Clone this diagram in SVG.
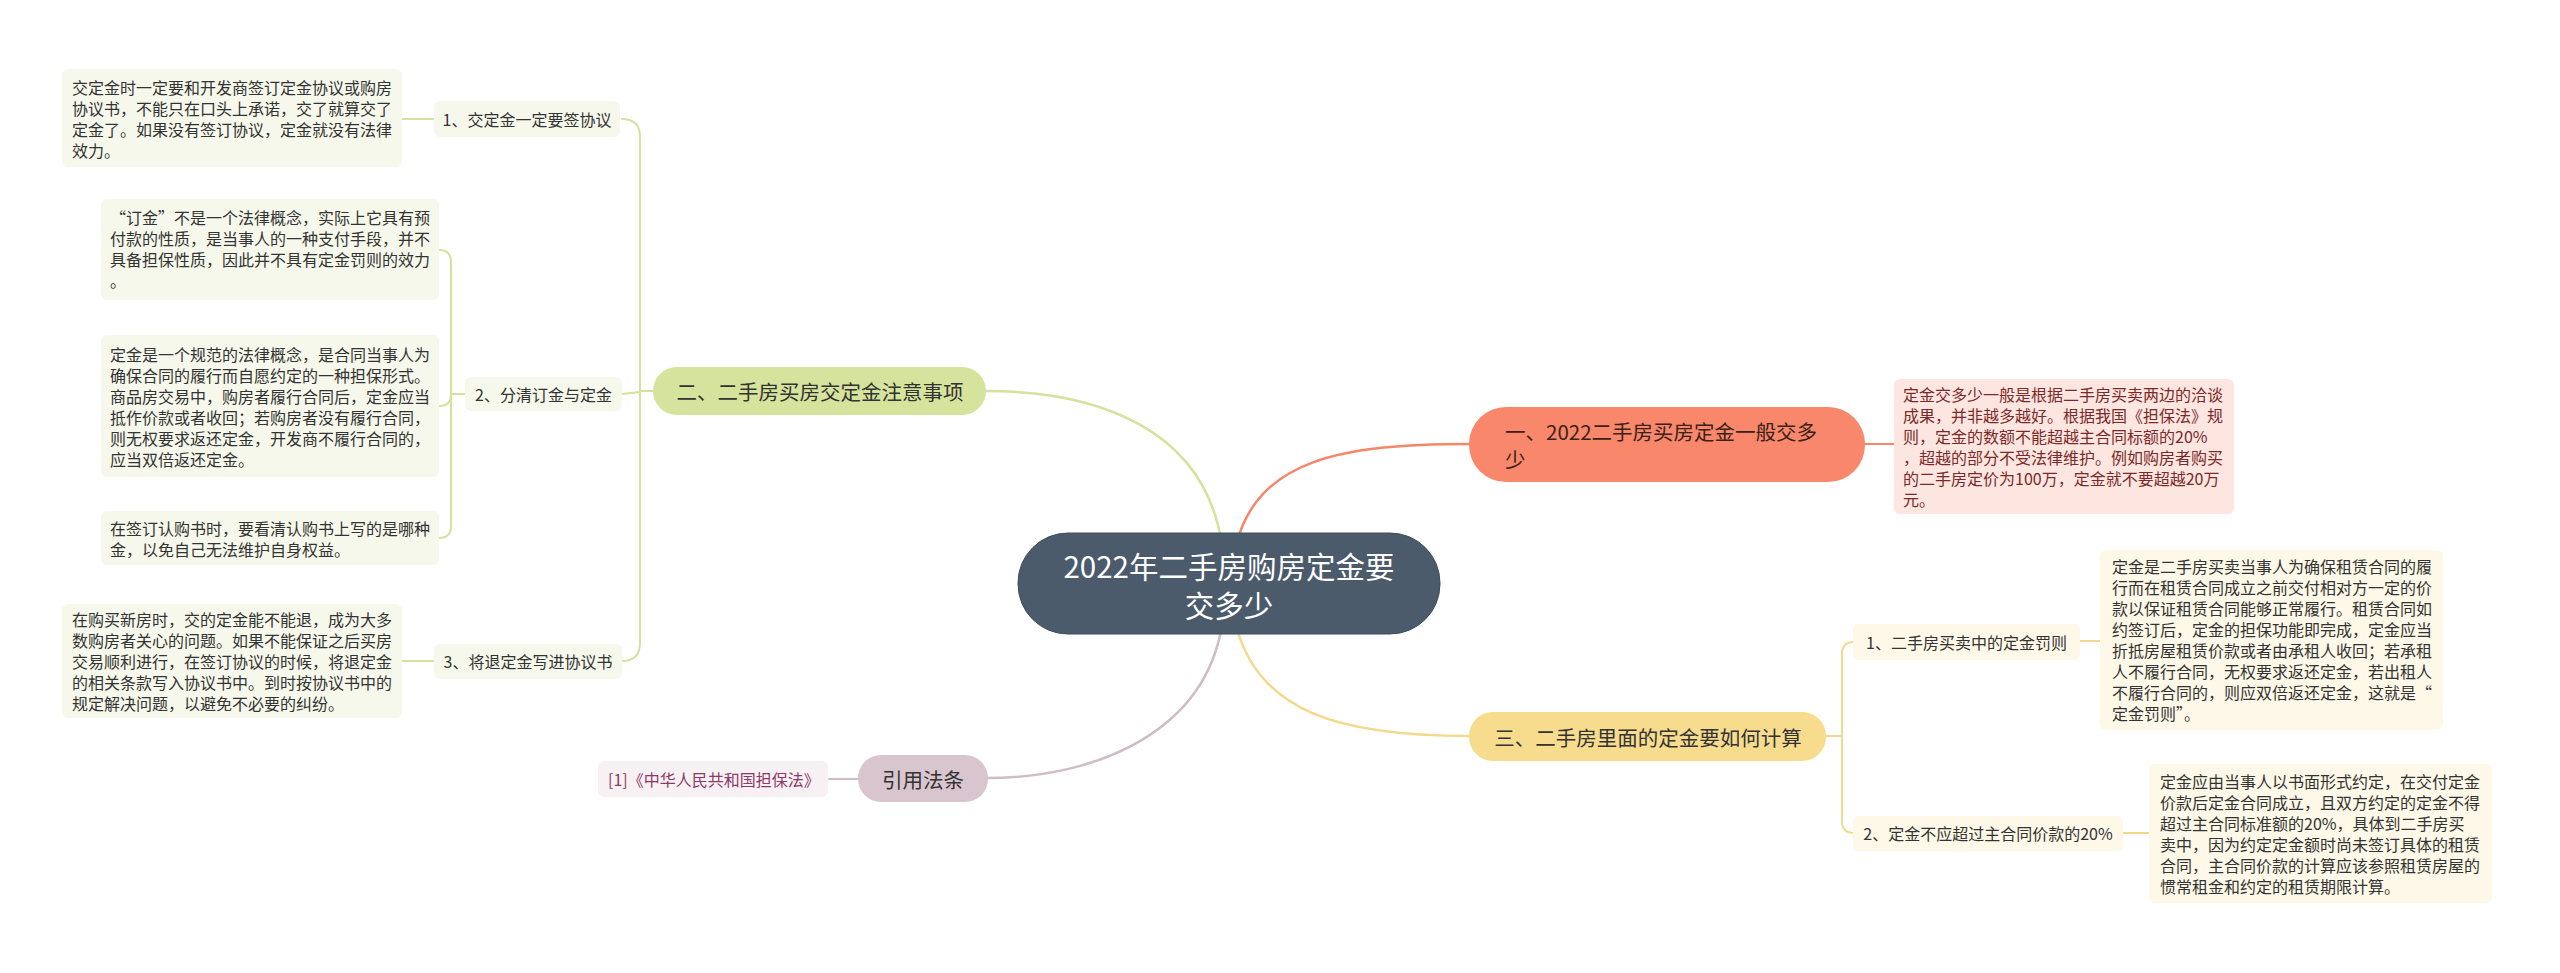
<svg xmlns="http://www.w3.org/2000/svg" width="2560" height="973" viewBox="0 0 2560 973">
<style>
text{font-family:"Noto Sans CJK SC","Noto Sans",sans-serif;dominant-baseline:central;fill:#333}
.leaf{font-size:16px}
.sub{font-size:16px}
.main{font-size:20.5px}
.c{fill:none;stroke-linecap:round}
.g{stroke:#d5e19c}
.y{stroke:#f4d98c}
.o{stroke:#f4876a}
.m{stroke:#cfbcc5}
.gl{fill:#f6f8eb}
.yl{fill:#fdf8e7}
</style>
<rect width="2560" height="973" fill="#ffffff"/>
<g id="connectors">
<path class="c g" stroke-width="2.5" d="M1222,545 C1205,430 1100,391 986,391"/>
<path class="c o" stroke-width="2.5" d="M1236,545 C1258,460 1340,444 1469,444"/>
<path class="c y" stroke-width="2.5" d="M1236,625 C1258,712 1340,736 1469,736"/>
<path class="c m" stroke-width="2.5" d="M1222,625 C1205,730 1100,778 986,778"/>
<path class="c o" stroke-width="2" d="M1865,444 L1894,444"/>
<path class="c m" stroke-width="2" d="M829,779 L859,779"/>
<path class="c g" stroke-width="2" d="M653,391 L640,391 M640,391 L640,137 Q640,119 622,119 M640,391 L640,643 Q640,661 622,661 M640,392 L622,394"/>
<path class="c g" stroke-width="2" d="M402,119 L434,119 M402,661 L434,661"/>
<path class="c g" stroke-width="2" d="M465,394 L451,394 M451,394 L451,262 Q451,250 439,250 M451,394 L451,526 Q451,538 439,538 M451,394 Q451,406 439,406"/>
<path class="c y" stroke-width="2" d="M1825,736 L1842,736 M1842,736 L1842,654 Q1842,642 1854,642 M1842,736 L1842,821 Q1842,833 1854,833"/>
<path class="c y" stroke-width="2" d="M2080,641 L2100,641 M2123,833 L2149,833"/>
</g>
<g id="central">
<rect x="1018" y="533" width="422" height="101" rx="50" fill="#4b5b6b" stroke="#3f4e5d" stroke-width="1"/>
<text x="1229" y="565" font-size="29.5" text-anchor="middle" style="fill:#ffffff">2022年二手房购房定金要</text>
<text x="1229" y="604" font-size="29.5" text-anchor="middle" style="fill:#ffffff">交多少</text>
</g>
<g id="branch1">
<rect x="1469" y="407" width="396" height="75" rx="37" fill="#f8876b"/>
<text class="main" x="1505" y="431" style="fill:#3a2218">一、2022二手房买房定金一般交多</text>
<text class="main" x="1505" y="459" style="fill:#3a2218">少</text>
</g>
<g id="branch1-leaf">
<rect x="1894" y="379" width="340" height="135" rx="6" fill="#fde6e0"/>
<g class="leaf">
<text x="1903" y="394" style="fill:#7a2a2a">定金交多少一般是根据二手房买卖两边的洽谈</text>
<text x="1903" y="415" style="fill:#7a2a2a">成果，并非越多越好。根据我国《担保法》规</text>
<text x="1903" y="436" style="fill:#7a2a2a">则，定金的数额不能超越主合同标额的20%</text>
<text x="1903" y="457" style="fill:#7a2a2a">，超越的部分不受法律维护。例如购房者购买</text>
<text x="1903" y="478" style="fill:#7a2a2a">的二手房定价为100万，定金就不要超越20万</text>
<text x="1903" y="499" style="fill:#7a2a2a">元。</text>
</g>
</g>
<g id="branch2">
<rect x="653" y="367" width="333" height="48" rx="24" fill="#d6e39c"/>
<text class="main" x="820" y="391" text-anchor="middle">二、二手房买房交定金注意事项</text>
</g>
<g id="b2-sub1">
<rect class="gl" x="434" y="101" width="186" height="36" rx="6"/>
<text class="sub" x="527" y="119" text-anchor="middle">1、交定金一定要签协议</text>
</g>
<g id="b2-sub1-leaf">
<rect class="gl" x="62" y="69" width="340" height="98" rx="6"/>
<g class="leaf">
<text x="72" y="87">交定金时一定要和开发商签订定金协议或购房</text>
<text x="72" y="108">协议书，不能只在口头上承诺，交了就算交了</text>
<text x="72" y="129">定金了。如果没有签订协议，定金就没有法律</text>
<text x="72" y="150">效力。</text>
</g>
</g>
<g id="b2-sub2">
<rect class="gl" x="465" y="377" width="157" height="34" rx="6"/>
<text class="sub" x="543.5" y="394" text-anchor="middle">2、分清订金与定金</text>
</g>
<g id="b2-sub2-leaf1">
<rect class="gl" x="101" y="199" width="338" height="101" rx="6"/>
<g class="leaf">
<text x="110" y="217">“订金”不是一个法律概念，实际上它具有预</text>
<text x="110" y="238">付款的性质，是当事人的一种支付手段，并不</text>
<text x="110" y="259">具备担保性质，因此并不具有定金罚则的效力</text>
<text x="110" y="280">。</text>
</g>
</g>
<g id="b2-sub2-leaf2">
<rect class="gl" x="101" y="335" width="338" height="142" rx="6"/>
<g class="leaf">
<text x="110" y="354">定金是一个规范的法律概念，是合同当事人为</text>
<text x="110" y="375">确保合同的履行而自愿约定的一种担保形式。</text>
<text x="110" y="396">商品房交易中，购房者履行合同后，定金应当</text>
<text x="110" y="417">抵作价款或者收回；若购房者没有履行合同，</text>
<text x="110" y="438">则无权要求返还定金，开发商不履行合同的，</text>
<text x="110" y="459">应当双倍返还定金。</text>
</g>
</g>
<g id="b2-sub2-leaf3">
<rect class="gl" x="101" y="511" width="338" height="54" rx="6"/>
<g class="leaf">
<text x="110" y="528">在签订认购书时，要看清认购书上写的是哪种</text>
<text x="110" y="549">金，以免自己无法维护自身权益。</text>
</g>
</g>
<g id="b2-sub3">
<rect class="gl" x="434" y="644" width="188" height="35" rx="6"/>
<text class="sub" x="528" y="661" text-anchor="middle">3、将退定金写进协议书</text>
</g>
<g id="b2-sub3-leaf">
<rect class="gl" x="62" y="604" width="340" height="114" rx="6"/>
<g class="leaf">
<text x="72" y="619">在购买新房时，交的定金能不能退，成为大多</text>
<text x="72" y="640">数购房者关心的问题。如果不能保证之后买房</text>
<text x="72" y="661">交易顺利进行，在签订协议的时候，将退定金</text>
<text x="72" y="682">的相关条款写入协议书中。到时按协议书中的</text>
<text x="72" y="703">规定解决问题，以避免不必要的纠纷。</text>
</g>
</g>
<g id="branch3">
<rect x="1469" y="712" width="357" height="49" rx="24" fill="#f7dc8e"/>
<text class="main" x="1648" y="737" text-anchor="middle">三、二手房里面的定金要如何计算</text>
</g>
<g id="b3-sub1">
<rect class="yl" x="1853" y="624" width="227" height="36" rx="6"/>
<text class="sub" x="1966.5" y="642" text-anchor="middle">1、二手房买卖中的定金罚则</text>
</g>
<g id="b3-sub1-leaf">
<rect class="yl" x="2100" y="550" width="343" height="180" rx="6"/>
<g class="leaf">
<text x="2112" y="566">定金是二手房买卖当事人为确保租赁合同的履</text>
<text x="2112" y="587">行而在租赁合同成立之前交付相对方一定的价</text>
<text x="2112" y="608">款以保证租赁合同能够正常履行。租赁合同如</text>
<text x="2112" y="629">约签订后，定金的担保功能即完成，定金应当</text>
<text x="2112" y="650">折抵房屋租赁价款或者由承租人收回；若承租</text>
<text x="2112" y="671">人不履行合同，无权要求返还定金，若出租人</text>
<text x="2112" y="692">不履行合同的，则应双倍返还定金，这就是“</text>
<text x="2112" y="713">定金罚则”。</text>
</g>
</g>
<g id="b3-sub2">
<rect class="yl" x="1853" y="816" width="270" height="35" rx="6"/>
<text class="sub" x="1988" y="833" text-anchor="middle">2、定金不应超过主合同价款的20%</text>
</g>
<g id="b3-sub2-leaf">
<rect class="yl" x="2149" y="764" width="343" height="139" rx="6"/>
<g class="leaf">
<text x="2160" y="781">定金应由当事人以书面形式约定，在交付定金</text>
<text x="2160" y="802">价款后定金合同成立，且双方约定的定金不得</text>
<text x="2160" y="823">超过主合同标准额的20%，具体到二手房买</text>
<text x="2160" y="844">卖中，因为约定定金额时尚未签订具体的租赁</text>
<text x="2160" y="865">合同，主合同价款的计算应该参照租赁房屋的</text>
<text x="2160" y="886">惯常租金和约定的租赁期限计算。</text>
</g>
</g>
<g id="branch4">
<rect x="858" y="755" width="130" height="47" rx="23" fill="#d9c5ce"/>
<text class="main" x="923" y="779" text-anchor="middle">引用法条</text>
</g>
<g id="branch4-leaf">
<rect x="598" y="761" width="230" height="36" rx="6" fill="#f8f1f4"/>
<text class="leaf" x="608" y="779" style="fill:#8b3a66">[1]《中华人民共和国担保法》</text>
</g>
</svg>
